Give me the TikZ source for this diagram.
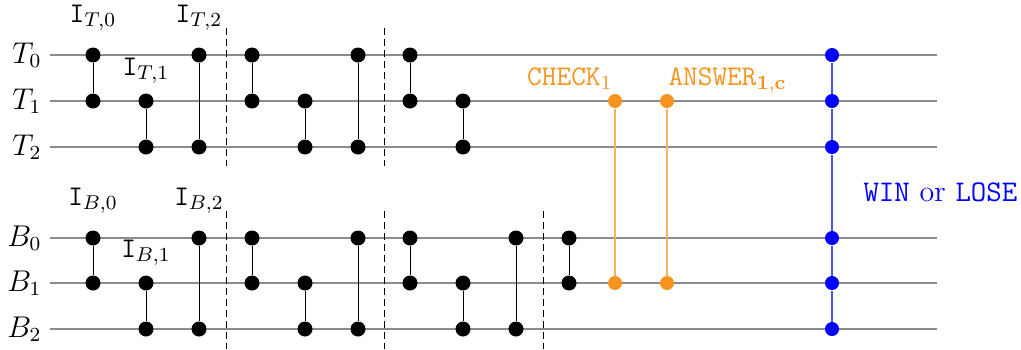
\documentclass[tikz,border=0pt]{standalone}
\definecolor{myorange}{RGB}{247,148,30}
\definecolor{myorangeline}{RGB}{250,178,95}
\definecolor{mybline}{RGB}{80,80,255}
\begin{document}
\begin{tikzpicture}[x=0.4pt,y=-0.4pt,
  wire/.style={gray!90, line width=0.55pt},
  dot/.style={circle, fill=black, inner sep=0pt, minimum size=6pt},
  odot/.style={circle, fill=myorange, inner sep=0pt, minimum size=5.6pt},
  bdot/.style={circle, fill=blue, inner sep=0pt, minimum size=5.6pt},
  gateline/.style={black, line width=0.4pt},
  sep/.style={black, line width=0.4pt, dash pattern=on 2.6pt off 1.8pt},
  wlabel/.style={anchor=east, inner sep=0pt, font=\large},
  txt/.style={inner sep=0pt, font=\fontsize{11.4}{13.7}\selectfont},
  glabel/.style={txt}]
\useasboundingbox (0,0) rectangle (1021,349);
% wires
\foreach \n/\y/\l in {t0/55/T_0, t1/101/T_1, t2/147/T_2, b0/238/B_0, b1/283/B_1, b2/329/B_2}{
  \node[wlabel] (l\n) at (42,\y) {$\l$};
  \coordinate (s\n) at (50,\y);
  \coordinate (e\n) at (937,\y);
  \draw[wire] (s\n) -- (e\n);
}
% gates
\foreach \i/\x/\ya/\yb in {1/93/55/101, 2/146/101/147, 3/199/55/147, 4/252/55/101, 5/305/101/147, 6/358/55/147, 7/410/55/101, 8/463/101/147,
  9/93/238/283, 10/146/283/329, 11/199/238/329, 12/252/238/283, 13/305/283/329, 14/358/238/329, 15/410/238/283, 16/463/283/329, 17/516/238/329, 18/569/238/283}{
  \node[dot] (g\i a) at (\x,\ya) {};
  \node[dot] (g\i b) at (\x,\yb) {};
  \draw[gateline] (g\i a) -- (g\i b);
}
% gate labels
\node[glabel] (it0) at (93,18) {\texttt{I}$_{T,0}$};
\node[glabel] (it1) at (146,71) {\texttt{I}$_{T,1}$};
\node[glabel] (it2) at (199,18) {\texttt{I}$_{T,2}$};
\node[glabel] (ib0) at (93,201) {\texttt{I}$_{B,0}$};
\node[glabel] (ib1) at (146,253) {\texttt{I}$_{B,1}$};
\node[glabel] (ib2) at (199,201) {\texttt{I}$_{B,2}$};
% separators
\foreach \i/\x/\ya/\yb in {1/226/28/166, 2/384/28/166, 3/226/211/349, 4/384/211/349, 5/543/211/349}{
  \coordinate (d\i a) at (\x,\ya);
  \coordinate (d\i b) at (\x,\yb);
  \draw[sep] (d\i a) -- (d\i b);
}
% orange
\node[odot] (c1) at (615,101) {};
\node[odot] (c2) at (615,283) {};
\node[odot] (a1) at (667,101) {};
\node[odot] (a2) at (667,283) {};
\draw[myorangeline, line width=0.45pt] (c1) -- (c2);
\draw[myorangeline, line width=0.45pt] (a1) -- (a2);
\node[txt, anchor=base east, text=myorange] (cl) at (613,85) {\texttt{CHECK}$_1$};
\node[txt, anchor=base west, text=myorange] (al) at (668,85) {\texttt{ANSWER}$_{\mathbf{1,c}}$};
% blue
\foreach \n/\y in {1/55, 2/101, 3/147, 4/238, 5/283, 6/329}{
  \node[bdot] (w\n) at (832,\y) {};
}
\draw[mybline, line width=0.45pt] (w1) -- (w2) -- (w3) -- (w4) -- (w5) -- (w6);
\node[inner sep=0pt, font=\fontsize{12}{14}\selectfont, anchor=west, text=blue] (wl) at (863,192) {\texttt{WIN} or \texttt{LOSE}};
\end{tikzpicture}
\end{document}
